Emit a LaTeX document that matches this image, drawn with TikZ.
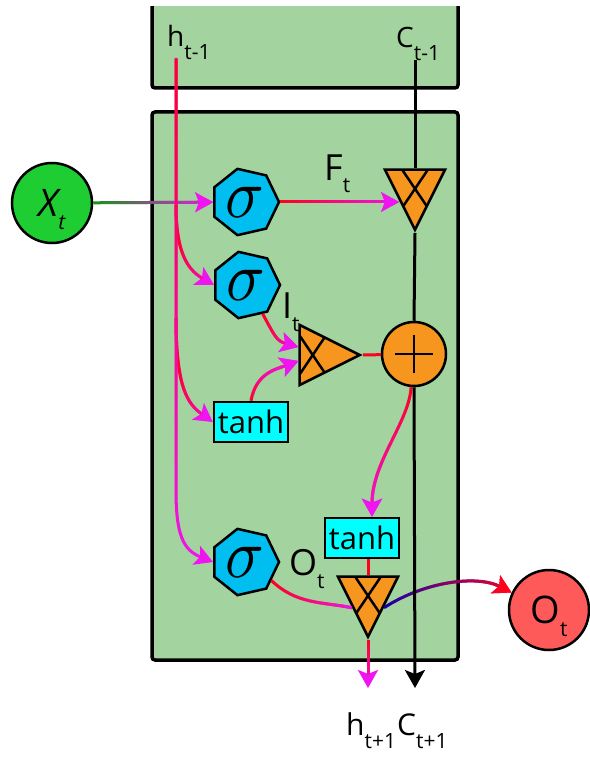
\documentclass[tikz,border=0pt]{standalone}
\usepackage{graphicx}
\usepackage{fontspec}
\setmainfont{Open Sans}
\usetikzlibrary{shapes.geometric, arrows.meta, positioning, calc, fadings}
\definecolor{cellgreen}{RGB}{163, 211, 158}
\definecolor{sigblue}{RGB}{0, 190, 240}
\definecolor{gateorange}{RGB}{247, 150, 30}
\definecolor{tanhcyan}{RGB}{0, 255, 255}
\definecolor{inputgreen}{RGB}{30, 205, 50}
\definecolor{outputred}{RGB}{255, 90, 90}
\definecolor{flowred}{RGB}{255, 0, 30}
\definecolor{flowmag}{RGB}{240, 20, 240}
\definecolor{flowblue}{RGB}{20, 0, 170}
\definecolor{flowgreen}{RGB}{20, 150, 20}
\newcommand{\sublbl}[2]{#1\raisebox{-13pt}{\fontsize{21}{21}\selectfont #2}}
\newcommand{\sigmark}{\scalebox{6.4}[7]{$\sigma$}}

\begin{document}
\begin{tikzpicture}[
        x=1pt, y=-1pt,
        cell/.style={draw=black, line width=3.5pt, fill=cellgreen, rounded corners=3pt},
        sigmabox/.style={regular polygon, regular polygon sides=7, shape border rotate=-90,
            minimum size=68pt, inner sep=0pt, draw=black, line width=2.5pt, fill=sigblue},
        tanhbox/.style={rectangle, draw=black, line width=2.5pt, fill=tanhcyan,
            minimum width=74pt, minimum height=40pt, inner sep=0pt,
            font=\fontsize{31}{31}\selectfont},
        gate/.style n args={2}{isosceles triangle, isosceles triangle stretches,
            shape border rotate=#1, minimum width=60pt, minimum height=60pt,
            inner sep=0pt, draw=black, line width=2.5pt, fill=gateorange,
            path picture={
                \draw[line width=2.5pt] ([shift={(#2)}]path picture bounding box.center) ++(-25,-37) -- ++(50,74);
                \draw[line width=2.5pt] ([shift={(#2)}]path picture bounding box.center) ++(25,-37) -- ++(-50,74);
            }},
        plusnode/.style={circle, minimum size=64pt, inner sep=0pt, draw=black,
            line width=2.5pt, fill=gateorange,
            path picture={
                \draw[line width=2.5pt] ([xshift=-19pt]path picture bounding box.center) -- ([xshift=19pt]path picture bounding box.center);
                \draw[line width=2.5pt] ([yshift=-19pt]path picture bounding box.center) -- ([yshift=19pt]path picture bounding box.center);
            }},
        endcircle/.style={circle, minimum size=80pt, inner sep=0pt, draw=black,
            line width=2.5pt, text depth=0pt, font=\fontsize{38}{38}\selectfont},
        lbl/.style={inner sep=0pt, font=\fontsize{28}{28}\selectfont},
        biglbl/.style={inner sep=0pt, font=\fontsize{36}{36}\selectfont},
        botlbl/.style={inner sep=0pt, font=\fontsize{30}{30}\selectfont},
        flow/.style n args={3}{line width=3pt, draw=#1, postaction={draw=#2, path fading=#3}},
        flowtip/.style={-{Stealth[length=18pt, width=20pt, inset=4pt, color=#1]}},
        cline/.style={line width=3pt, draw=black}
    ]
    \useasboundingbox (0,0) rectangle (589,762);

    % cell boxes
    \begin{scope}
        \clip (0,7) rectangle (589,762);
        \draw[cell] (152,-20) rectangle (458,88);
    \end{scope}
    \draw[cell] (152,112) rectangle (458,660);

    % gates
    \node[sigmabox] (sig1) at (245,202) {\sigmark};
    \node[sigmabox] (sig2) at (246,285) {\sigmark};
    \node[sigmabox] (sig3) at (245,562) {\sigmark};
    \node[tanhbox] (tanh1) at (251,422) {tanh};
    \node[tanhbox] (tanh2) at (362,538) {tanh};
    \node[gate={-90}{0,-11}, anchor=apex] (fgate) at (415,233) {};
    \node[gate={0}{-17,0}, anchor=apex] (igate) at (363,355) {};
    \node[gate={-90}{0,-11}, anchor=apex] (ogate) at (368,640) {};
    \node[plusnode] (plus) at (414,354) {};
    \node[endcircle, fill=inputgreen] (xt) at (52,203) {\sublbl{\itshape X}{t}};
    \node[endcircle, fill=outputred] (ot) at (549,610) {\sublbl{O}{t}};

    % labels
    \node[lbl, anchor=base west] (hprev) at (167,47) {\sublbl{h}{t-1}};
    \node[lbl, anchor=base west] (cprev) at (396,48) {\sublbl{C}{t-1}};
    \node[biglbl, anchor=base west] (flbl) at (324,180) {\sublbl{F}{t}};
    \node[biglbl, anchor=base west] (ilbl) at (282,318) {\sublbl{I}{t}};
    \node[biglbl, anchor=base west] (olbl) at (289,575) {\sublbl{O}{t}};
    \node[botlbl, anchor=base west] (hnext) at (346,735) {\sublbl{h}{t+1}};
    \node[botlbl, anchor=base west] (cnext) at (397,735) {\sublbl{C}{t+1}};

    \coordinate (htop) at (176,58);
    \coordinate (hsplit2) at (176,205);
    \coordinate (hsplit3) at (176,318);
    \coordinate (hbend) at (176,490);
    \coordinate (hbot) at (368,688);
    \coordinate (ctop) at (415,60);
    \coordinate (cbot) at (415,688);

    % connectors
    \draw[flow={flowgreen}{flowmag}{west}, flowtip=flowmag] (xt) -- (sig1);
    \draw[flow={flowmag}{flowred}{east}, flowtip=flowmag] (hsplit2) .. controls +(0,45) and +(-28,-16) .. (sig2.west);
    \draw[flow={flowmag}{flowred}{east}, flowtip=flowmag] (hsplit3) .. controls +(0,70) and +(-25,-18) .. (tanh1.west);
    \draw[flow={flowmag}{flowred}{south}, flowtip=flowmag] (htop) -- (hbend) .. controls +(0,45) and +(-30,-12) .. (sig3.west);
    \draw[flow={flowred}{flowmag}{west}, flowtip=flowmag] (sig1.east) -- ([xshift=-16pt]sig1.east -| fgate.apex);
    \draw[flow={flowred}{flowmag}{west}, flowtip=flowmag] (sig2.-60) .. controls +(12,22) and +(-22,-6) .. ([yshift=8pt]igate.west);
    \draw[flow={flowred}{flowmag}{south}, flowtip=flowmag] (tanh1.north) .. controls +(5,-28) and +(-22,8) .. ([yshift=-6pt]igate.west);
    \draw[line width=3pt, flowred] (igate.apex) -- (plus);
    \draw[flow={flowred}{flowmag}{north}, flowtip=flowmag] (plus.-95) .. controls +(-2,35) and +(0,-55) .. ([xshift=10pt]tanh2.north);
    \draw[line width=3pt, flowred] (tanh2.south -| ogate.north) -- (ogate.north);
    \draw[flow={flowred}{flowmag}{west}] (sig3.-35) .. controls +(25,24) and +(-30,-6) .. (ogate.right side);
    \draw[flow={flowblue}{flowred}{west}, flowtip=flowred] (ogate.left side) .. controls +(40,-26) and +(-35,-18) .. (ot.155);
    \draw[flow={flowmag}{flowred}{south}, flowtip=flowmag] (ogate.apex) -- (hbot);
    \draw[cline] (ctop) -- (fgate.north);
    \draw[cline] (fgate.apex) -- (plus.north);
    \draw[cline, -{Stealth[length=18pt, width=20pt, inset=4pt]}] (plus.south) -- (cbot);
\end{tikzpicture}
\end{document}
